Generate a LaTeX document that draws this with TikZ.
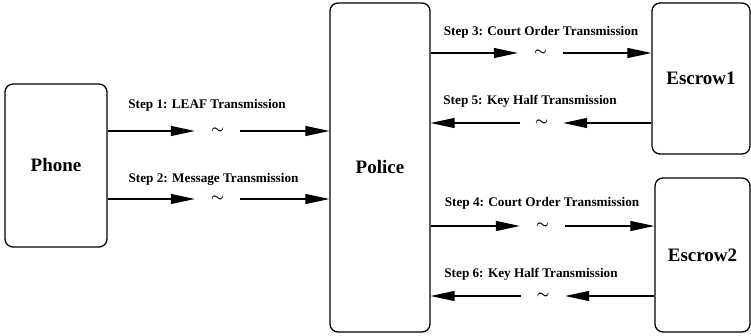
\documentclass[tikz,border=0pt]{standalone}
\usepackage{amsmath}
\usepackage{fontspec}
\setmainfont{Liberation Serif}
\usetikzlibrary{arrows.meta}
\tikzset{
  box/.style={draw, line width=1.3pt, rounded corners=8pt, inner sep=0pt,
    font=\fontsize{19}{21}\selectfont\bfseries},
  steplbl/.style={inner sep=0pt, font=\fontsize{13.2}{15}\selectfont\bfseries},
  gap/.style={inner sep=0pt, minimum height=8pt, font=\fontsize{15}{15}\selectfont},
  link/.style={draw, line width=1.2pt, -{Triangle[length=24pt,width=10pt]}}
}
\begin{document}
\begin{tikzpicture}[x=1pt,y=-1pt]
\useasboundingbox (0,0) rectangle (751,336);
\node[box, minimum width=102pt, minimum height=163pt] (phone) at (56,165.5) {Phone};
\node[box, minimum width=100pt, minimum height=329pt] (police) at (380,167.5) {Police};
\node[box, minimum width=98pt, minimum height=151pt] (esc1) at (701,78.5) {Escrow1};
\node[box, minimum width=95pt, minimum height=154pt] (esc2) at (702.5,255) {Escrow2};
\node[gap, minimum width=45pt] (t1) at (217.5,131) {$\boldsymbol{\sim}$};
\node[gap, minimum width=45pt] (t2) at (217.5,199) {$\boldsymbol{\sim}$};
\node[gap, minimum width=45pt] (t3) at (540.5,53) {$\boldsymbol{\sim}$};
\node[gap, minimum width=43pt] (t5) at (541.5,123) {$\boldsymbol{\sim}$};
\node[gap, minimum width=45pt] (t4) at (542.5,226) {$\boldsymbol{\sim}$};
\node[gap, minimum width=44pt] (t6) at (543,296) {$\boldsymbol{\sim}$};
\node[steplbl] (l1) at (207,105) {Step 1: LEAF Transmission};
\node[steplbl] (l2) at (213.5,179) {Step 2: Message Transmission};
\node[steplbl] (l3) at (541,32) {Step 3: Court Order Transmission};
\node[steplbl] (l5) at (530,101) {Step 5: Key Half Transmission};
\node[steplbl] (l4) at (542,203) {Step 4: Court Order Transmission};
\node[steplbl] (l6) at (531,274) {Step 6: Key Half Transmission};
\path[link] (phone.east |- t1) -- (t1.west);
\path[link] (t1.east) -- (police.west |- t1);
\path[link] (phone.east |- t2) -- (t2.west);
\path[link] (t2.east) -- (police.west |- t2);
\path[link] (police.east |- t3) -- (t3.west);
\path[link] (t3.east) -- (esc1.west |- t3);
\path[link] (esc1.west |- t5) -- (t5.east);
\path[link] (t5.west) -- (police.east |- t5);
\path[link] (police.east |- t4) -- (t4.west);
\path[link] (t4.east) -- (esc2.west |- t4);
\path[link] (esc2.west |- t6) -- (t6.east);
\path[link] (t6.west) -- (police.east |- t6);
\end{tikzpicture}
\end{document}
